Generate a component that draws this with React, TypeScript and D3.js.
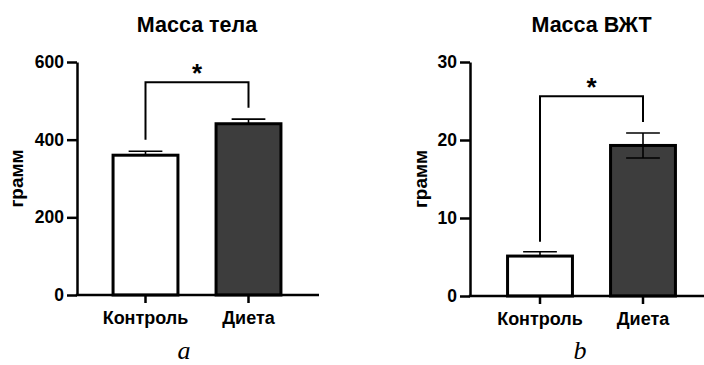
import React, { useEffect, useRef } from 'react';
import { scaleLinear, scaleBand, axisLeft, axisBottom, select } from 'd3';

const categories = ['Контроль', 'Диета'];
const barFills = ['#ffffff', '#3d3d3d'];

// Масса тела
const bodyMass = [360, 441];
const bodyMassSem = [10, 12];
const bodyMassTicks = [0, 200, 400, 600];
const bodyMassBracketTop = 548;
const bodyMassBracketLegs = [400, 482];
const bodyMassLowerError = [false, false];

// Масса ВЖТ
const fatMass = [5.12, 19.3];
const fatMassSem = [0.55, 1.6];
const fatMassTicks = [0, 10, 20, 30];
const fatMassBracketTop = 25.6;
const fatMassBracketLegs = [6.95, 22.3];
const fatMassLowerError = [false, true];

const FONT = '"Liberation Sans", Arial, sans-serif';
const SERIF = '"Liberation Serif", "Times New Roman", serif';

type PanelProps = {
	title: string;
	values: number[];
	sem: number[];
	ticks: number[];
	bracketTop: number;
	bracketLegs: number[];
	lowerError: boolean[];
	left: number;
	bottom: number;
	top: number;
	axisEnd: number;
	bandStart: number;
	bandEnd: number;
	labelX: number;
};

function Panel(props: PanelProps) {
	const node = useRef<SVGGElement>(null);

	useEffect(() => {
		const g = select(node.current);
		g.selectAll('*').remove();
		const {
			title, values, sem, ticks, bracketTop, bracketLegs, lowerError,
			left, bottom, top, axisEnd, bandStart, bandEnd, labelX,
		} = props;

		const y = scaleLinear()
			.domain([0, ticks[ticks.length - 1]])
			.range([bottom, top]);
		const x = scaleBand()
			.domain(categories)
			.range([bandStart, bandEnd])
			.paddingInner(0.37)
			.paddingOuter(0.185);
		const bw = x.bandwidth();
		const cx = (c: string) => (x(c) as number) + bw / 2;

		// bars
		g.selectAll('rect.bar')
			.data(categories)
			.enter()
			.append('rect')
			.attr('class', 'bar')
			.attr('x', (c) => x(c) as number)
			.attr('y', (c, i) => y(values[i]))
			.attr('width', bw)
			.attr('height', (c, i) => y(0) - y(values[i]))
			.attr('fill', (c, i) => barFills[i])
			.attr('stroke', '#000')
			.attr('stroke-width', 3);

		// error bars
		const capW = bw * 0.52;
		categories.forEach((c, i) => {
			const lo = lowerError[i] ? values[i] - sem[i] : values[i];
			const hi = values[i] + sem[i];
			const eg = g.append('g').attr('stroke', '#000').attr('stroke-width', 1.6);
			eg.append('line')
				.attr('x1', cx(c)).attr('x2', cx(c))
				.attr('y1', y(lo)).attr('y2', y(hi));
			eg.append('line')
				.attr('x1', cx(c) - capW / 2).attr('x2', cx(c) + capW / 2)
				.attr('y1', y(hi)).attr('y2', y(hi));
			if (lowerError[i]) {
				eg.append('line')
					.attr('x1', cx(c) - capW / 2).attr('x2', cx(c) + capW / 2)
					.attr('y1', y(lo)).attr('y2', y(lo));
			}
		});

		// y axis
		const ya = g.append('g')
			.attr('transform', `translate(${left},0)`)
			.call(axisLeft(y).tickValues(ticks).tickSize(10).tickSizeOuter(0).tickPadding(3));
		ya.select('.domain').attr('stroke-width', 2.5).attr('stroke', '#000');
		ya.selectAll('.tick line').attr('stroke-width', 2.5).attr('stroke', '#000');
		ya.selectAll('.tick text')
			.attr('font-family', FONT)
			.attr('font-weight', 'bold')
			.attr('font-size', 17.5)
			.attr('fill', '#000');

		// x axis
		const xa = g.append('g')
			.attr('transform', `translate(0,${bottom})`)
			.call(axisBottom(x).tickSize(8).tickSizeOuter(0).tickPadding(8));
		xa.select('.domain').remove();
		xa.selectAll('.tick line').attr('stroke-width', 2.5).attr('stroke', '#000');
		xa.selectAll('.tick text')
			.attr('font-family', FONT)
			.attr('font-weight', 'bold')
			.attr('font-size', 18)
			.attr('fill', '#000');
		g.append('line')
			.attr('x1', left - 1.2).attr('x2', axisEnd)
			.attr('y1', bottom).attr('y2', bottom)
			.attr('stroke', '#000')
			.attr('stroke-width', 2.5);

		// significance bracket
		const xl = cx(categories[0]);
		const xr = cx(categories[1]);
		g.append('path')
			.attr('d', `M${xl},${y(bracketLegs[0])}V${y(bracketTop)}H${xr}V${y(bracketLegs[1])}`)
			.attr('fill', 'none')
			.attr('stroke', '#000')
			.attr('stroke-width', 2);
		g.append('text')
			.attr('x', (xl + xr) / 2)
			.attr('y', y(bracketTop) - 0.5)
			.attr('text-anchor', 'middle')
			.attr('font-family', FONT)
			.attr('font-weight', 'bold')
			.attr('font-size', 26)
			.text('*');

		// title
		g.append('text')
			.attr('x', (bandStart + bandEnd) / 2)
			.attr('y', 32)
			.attr('text-anchor', 'middle')
			.attr('font-family', FONT)
			.attr('font-weight', 'bold')
			.attr('font-size', 21.5)
			.text(title);

		// y label
		g.append('text')
			.attr('transform', `translate(${labelX},${(top + bottom) / 2}) rotate(-90)`)
			.attr('text-anchor', 'middle')
			.attr('font-family', FONT)
			.attr('font-weight', 'bold')
			.attr('font-size', 19)
			.text('грамм');
	}, [props]);

	return <g ref={node} />;
}

export default function App() {
	return (
		<svg
			width={704}
			height={365}
			style={{ position: 'absolute', left: 0, top: 0, background: '#fff' }}
		>
			<Panel
				title="Масса тела"
				values={bodyMass}
				sem={bodyMassSem}
				ticks={bodyMassTicks}
				bracketTop={bodyMassBracketTop}
				bracketLegs={bodyMassBracketLegs}
				lowerError={bodyMassLowerError}
				left={77}
				bottom={295}
				top={62}
				axisEnd={319}
				bandStart={94}
				bandEnd={300}
				labelX={23}
			/>
			<Panel
				title="Масса ВЖТ"
				values={fatMass}
				sem={fatMassSem}
				ticks={fatMassTicks}
				bracketTop={fatMassBracketTop}
				bracketLegs={fatMassBracketLegs}
				lowerError={fatMassLowerError}
				left={470}
				bottom={296}
				top={62}
				axisEnd={712}
				bandStart={488.5}
				bandEnd={694.5}
				labelX={427}
			/>
			<text x={184} y={359} textAnchor="middle" fontFamily={SERIF} fontStyle="italic" fontSize={26}>a</text>
			<text x={580} y={359} textAnchor="middle" fontFamily={SERIF} fontStyle="italic" fontSize={26}>b</text>
		</svg>
	);
}
